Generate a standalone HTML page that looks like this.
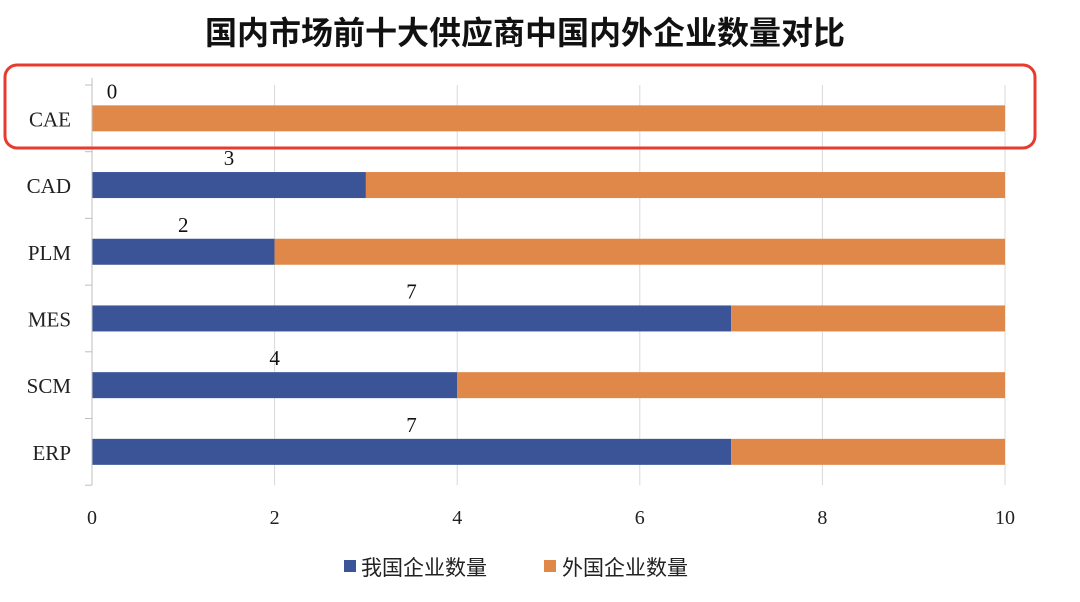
<!DOCTYPE html>
<html><head><meta charset="utf-8"><style>
body{margin:0;background:#fff;}
svg{display:block;font-family:"Liberation Serif","Noto Serif CJK SC",serif;}
</style></head><body>
<svg id="c" width="1080" height="602" viewBox="0 0 1080 602">
<text x="525" y="44" text-anchor="middle" font-size="32" font-weight="bold" font-family="'Liberation Sans','Noto Sans CJK SC',sans-serif" fill="#111">国内市场前十大供应商中国内外企业数量对比</text>
<g id="grid"></g><g id="bars"></g><g id="axes"></g>
<rect x="5" y="65" width="1030" height="83" rx="12" fill="none" stroke="#e63b2e" stroke-width="3"/>
<g>
<rect x="344" y="560" width="12" height="12" fill="#3a5497"/>
<text x="361" y="575" font-size="21" font-family="'Liberation Sans','Noto Sans CJK SC',sans-serif" fill="#222">我国企业数量</text>
<rect x="544" y="560" width="12" height="12" fill="#e0884a"/>
<text x="562" y="575" font-size="21" font-family="'Liberation Sans','Noto Sans CJK SC',sans-serif" fill="#222">外国企业数量</text>
</g>
</svg>
<script>
const categories=["CAE","CAD","PLM","MES","SCM","ERP"];
const domestic=[0,3,2,7,4,7];
const foreign=[10,7,8,3,6,3];
const xTicks=[0,2,4,6,8,10];
const NS="http://www.w3.org/2000/svg";
const x0=92,x1=1005,xMax=10,yTop=85,rowH=66.7,barH=26;
const xs=v=>x0+(x1-x0)*v/xMax;
const yc=i=>yTop+rowH*(i+0.5);
function mk(t,a,p){const e=document.createElementNS(NS,t);for(const k in a)e.setAttribute(k,a[k]);p.appendChild(e);return e;}
const grid=document.getElementById('grid'),bars=document.getElementById('bars'),axes=document.getElementById('axes');
const yBot=yTop+rowH*categories.length;
xTicks.forEach(t=>{
 if(t>0){const l=mk('line',{x1:xs(t),x2:xs(t),y1:yTop,y2:yBot,stroke:'#d9d9d9','stroke-width':1},grid);
 
 }
 const tx=mk('text',{x:xs(t),y:524,'text-anchor':'middle','font-size':20,fill:'#222'},axes);tx.textContent=t;
 
 
});
const ax=mk('line',{x1:x0,x2:x0,y1:yTop-7,y2:yBot,stroke:'#bfbfbf','stroke-width':1},axes);


for(let i=0;i<=categories.length;i++){const tk=mk('line',{x1:x0-7,x2:x0,y1:yTop+rowH*i,y2:yTop+rowH*i,stroke:'#bfbfbf'},axes);
 
 }
categories.forEach((c,i)=>{
 const y=yc(i);
 const lb=mk('text',{x:71,y:y+8,'text-anchor':'end','font-size':21,fill:'#222'},axes);lb.textContent=c;
 
 
 const b1=mk('rect',{x:xs(0),y:y-barH/2,width:xs(domestic[i])-xs(0),height:barH,fill:'#3a5497'},bars);
 
 
 const b2=mk('rect',{x:xs(domestic[i]),y:y-barH/2,width:xs(domestic[i]+foreign[i])-xs(domestic[i]),height:barH,fill:'#e0884a'},bars);
 
 
 const vx=Math.max((xs(0)+xs(domestic[i]))/2,112);
 const v=mk('text',{x:vx,y:y-20,'text-anchor':'middle','font-size':21,fill:'#111'},bars);v.textContent=domestic[i];
 
 
});
</script>
</body></html>
